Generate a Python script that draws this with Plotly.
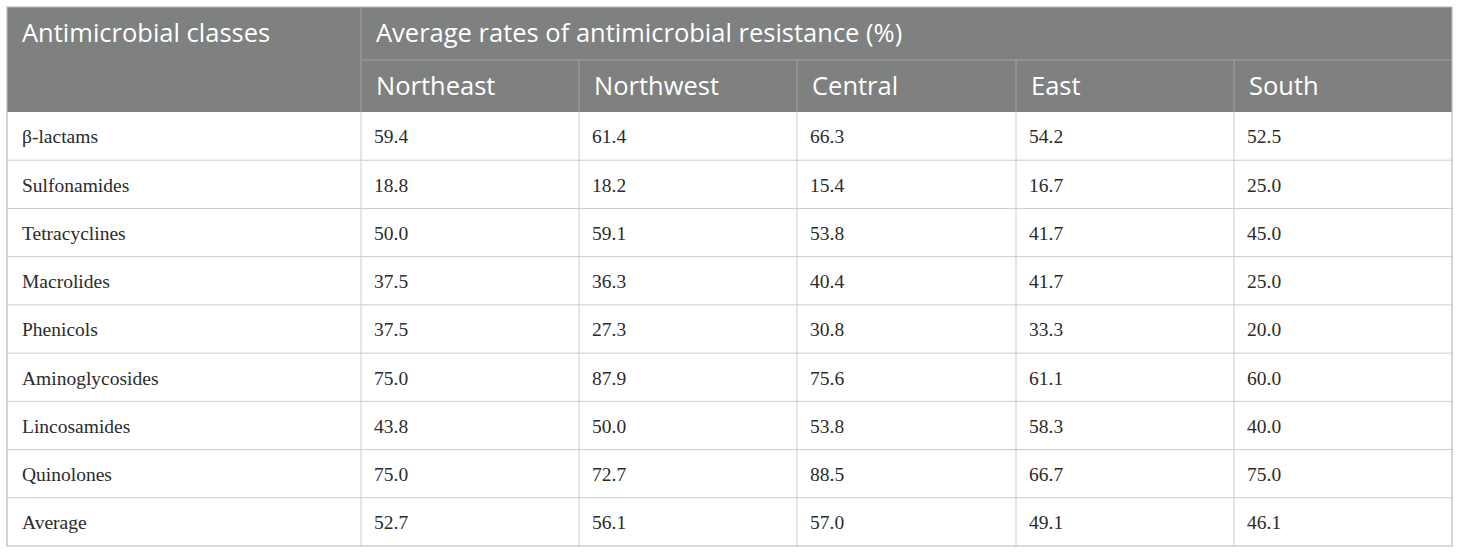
import numpy as np
import plotly.graph_objects as go

classes = ["β-lactams", "Sulfonamides", "Tetracyclines", "Macrolides", "Phenicols",
           "Aminoglycosides", "Lincosamides", "Quinolones", "Average"]
regions = ["Northeast", "Northwest", "Central", "East", "South"]
northeast = [59.4, 18.8, 50.0, 37.5, 37.5, 75.0, 43.8, 75.0, 52.7]
northwest = [61.4, 18.2, 59.1, 36.3, 27.3, 87.9, 50.0, 72.7, 56.1]
central = [66.3, 15.4, 53.8, 40.4, 30.8, 75.6, 53.8, 88.5, 57.0]
east = [54.2, 16.7, 41.7, 41.7, 33.3, 61.1, 58.3, 66.7, 49.1]
south = [52.5, 25.0, 45.0, 25.0, 20.0, 60.0, 40.0, 75.0, 46.1]
first_header = "Antimicrobial classes"
group_header = "Average rates of antimicrobial resistance (%)"

columns = [northeast, northwest, central, east, south]

# layout in pixel units (axis range = figure size)
W, H = 1460, 554
col_edges = [7, 361, 579, 797, 1016, 1234, 1452]
head_edges = [7, 60, 112]
row_edges = np.linspace(112, 546, len(classes) + 1)
pad = 15
nudge = 2.5  # text sits a little below the cell middle

HEAD_BG = "#7f8080"
HEAD_LINE = "#a3a3a3"
BODY_LINE = "#cccccc"
BORDER = "#b8b8b8"

shapes = []
# header background
shapes.append(dict(type="rect", x0=col_edges[0], x1=col_edges[-1], y0=head_edges[0], y1=head_edges[-1],
                   fillcolor=HEAD_BG, line=dict(width=0), layer="below"))
# header lines
shapes.append(dict(type="line", x0=col_edges[1], x1=col_edges[-1], y0=head_edges[1], y1=head_edges[1],
                   line=dict(color=HEAD_LINE, width=1)))
shapes.append(dict(type="line", x0=col_edges[1], x1=col_edges[1], y0=head_edges[0], y1=head_edges[2],
                   line=dict(color=HEAD_LINE, width=1)))
for xe in col_edges[2:-1]:
    shapes.append(dict(type="line", x0=xe, x1=xe, y0=head_edges[1], y1=head_edges[2],
                       line=dict(color=HEAD_LINE, width=1)))
# body grid
for ye in row_edges[1:-1]:
    shapes.append(dict(type="line", x0=col_edges[0], x1=col_edges[-1], y0=ye, y1=ye,
                       line=dict(color=BODY_LINE, width=1)))
for xe in col_edges[1:-1]:
    shapes.append(dict(type="line", x0=xe, x1=xe, y0=row_edges[0], y1=row_edges[-1],
                       line=dict(color=BODY_LINE, width=1)))
# outer border
shapes.append(dict(type="rect", x0=col_edges[0], x1=col_edges[-1], y0=head_edges[0], y1=row_edges[-1],
                   line=dict(color=BORDER, width=1.2)))

fig = go.Figure()

head_font = dict(family="Open Sans", size=25.5, color="white")
body_font = dict(family="Liberation Serif", size=19.5, color="#2b2b2b")

# header text
hx = [col_edges[0] + pad, col_edges[1] + pad] + [e + pad for e in col_edges[1:-1]]
hy = [(head_edges[0] + head_edges[1]) / 2 + nudge] * 2 + [(head_edges[1] + head_edges[2]) / 2 + nudge] * len(regions)
fig.add_trace(go.Scatter(x=hx, y=hy, mode="text", text=[first_header, group_header] + regions,
                         textposition="middle right", textfont=head_font, hoverinfo="skip",
                         cliponaxis=False, showlegend=False))

# body text
centers = (row_edges[:-1] + row_edges[1:]) / 2 + nudge
fig.add_trace(go.Scatter(x=[col_edges[0] + pad] * len(classes), y=centers, mode="text", text=classes,
                         textposition="middle right", textfont=body_font, hoverinfo="skip",
                         cliponaxis=False, showlegend=False))
for i, vals in enumerate(columns):
    fig.add_trace(go.Scatter(x=[col_edges[i + 1] + pad - 2] * len(vals), y=centers, mode="text",
                             text=[f"{v:.1f}" for v in vals], textposition="middle right",
                             textfont=body_font, hoverinfo="skip", cliponaxis=False, showlegend=False))

fig.update_layout(width=W, height=H, margin=dict(l=0, r=0, t=0, b=0),
                  paper_bgcolor="white", plot_bgcolor="white", shapes=shapes)
fig.update_xaxes(range=[0, W], visible=False, fixedrange=True)
fig.update_yaxes(range=[H, 0], visible=False, fixedrange=True)

# drop the browser's default body margin so the figure sits at the page corner
fig.write_html("out.html", config={"displayModeBar": False},
               post_script="document.body.style.margin='0';")
